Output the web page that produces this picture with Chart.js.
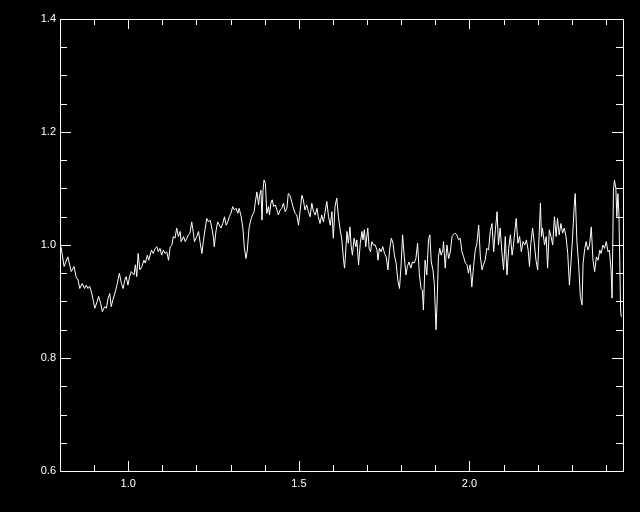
<!DOCTYPE html>
<html>
<head>
<meta charset="utf-8">
<script src="https://cdn.jsdelivr.net/npm/chart.js@4"></script>
<style>
  html, body { margin: 0; padding: 0; background: #000; }
  #wrap { width: 640px; height: 512px; }
</style>
</head>
<body>
<div id="wrap"><canvas id="chart" width="640" height="512"></canvas></div>
<script>
// wavelength (x) and flux ratio (y)
const xValues = [
    0.803,0.812,0.823,0.833,0.841,0.847,0.853,0.858,0.865,0.872,
    0.877,0.882,0.887,0.892,0.897,0.902,0.909,0.913,0.919,0.924,
    0.931,0.936,0.941,0.946,0.950,0.955,0.962,0.968,0.974,0.980,
    0.985,0.990,0.994,0.999,1.004,1.009,1.017,1.021,1.025,1.029,
    1.034,1.040,1.046,1.050,1.056,1.060,1.068,1.073,1.079,
    1.084,1.088,1.093,1.098,1.103,1.108,1.113,1.118,1.123,1.128,
    1.132,1.137,1.142,1.147,1.152,1.155,1.162,1.167,1.172,1.176,
    1.181,1.186,1.191,1.194,1.201,1.206,1.211,1.216,1.220,1.225,
    1.230,1.235,1.240,1.245,1.250,1.252,1.257,1.262,1.267,1.272,
    1.277,1.282,1.287,1.292,1.296,1.301,1.306,1.311,1.316,1.321,
    1.325,1.331,1.336,1.340,1.345,1.349,1.354,1.359,1.364,1.369,
    1.372,1.377,1.382,1.385,1.389,1.392,1.395,1.398,1.402,1.406,
    1.411,1.414,1.418,1.422,1.426,1.431,1.436,1.440,1.445,1.450,
    1.455,1.460,1.465,1.469,1.474,1.479,1.484,1.489,1.494,1.499,
    1.504,1.509,1.513,1.518,1.523,1.528,1.533,1.538,1.543,1.548,
    1.553,1.557,1.562,1.567,1.572,1.577,1.582,1.587,1.592,1.597,
    1.601,1.606,1.611,1.616,1.621,1.626,1.631,1.634,
    1.636,1.641,1.645,1.650,1.653,1.657,1.662,1.667,1.670,1.675,
    1.680,1.685,1.688,1.692,1.696,1.702,1.706,1.710,1.714,1.719,
    1.724,1.729,1.732,1.736,1.741,1.746,1.751,1.756,1.761,1.766,
    1.771,1.776,1.780,1.785,1.790,1.795,1.800,1.804,1.809,1.814,
    1.818,1.823,1.828,1.833,1.838,1.843,1.848,1.853,1.858,1.862,
    1.865,1.870,1.875,1.880,1.884,1.888,1.893,1.897,1.902,1.906,
    1.909,1.913,1.917,1.922,1.924,
    1.929,1.934,1.939,1.944,1.949,1.953,1.958,1.963,1.968,1.973,
    1.978,1.983,1.988,1.993,1.997,2.002,2.007,2.012,2.017,2.022,
    2.027,2.032,2.037,2.041,2.046,2.051,2.056,2.061,2.066,2.071,
    2.076,2.081,2.085,2.090,2.095,2.100,2.105,2.110,2.115,2.120,
    2.125,2.129,2.134,2.137,2.142,2.147,2.152,2.157,2.162,2.167,
    2.172,2.176,2.180,2.185,2.190,2.195,2.200,
    2.208,2.211,2.214,2.220,2.225,2.229,2.234,2.239,2.244,2.249,
    2.254,2.258,2.263,2.268,2.273,2.278,2.283,2.288,2.293,2.298,
    2.302,2.307,2.310,2.315,2.320,2.325,2.330,2.333,2.338,2.342,
    2.347,2.352,2.357,2.362,2.367,2.372,2.377,2.382,2.386,2.391,
    2.396,2.401,2.406,2.410,2.415,2.418,2.422,2.425,2.429,2.432,
    2.435,2.438,2.443,2.445
];

const yValues = [
    0.997,0.962,0.979,0.953,0.962,0.944,0.938,0.923,0.932,0.923,
    0.929,0.923,0.927,0.917,0.903,0.888,0.900,0.909,0.897,0.882,
    0.891,0.888,0.906,0.914,0.891,0.903,0.917,0.932,0.950,0.932,
    0.923,0.938,0.944,0.929,0.944,0.953,0.947,0.965,0.944,0.985,
    0.956,0.962,0.973,0.968,0.982,0.973,0.991,0.985,0.994,
    0.997,0.988,0.994,0.982,0.991,0.985,0.988,0.973,0.997,1.000,
    1.015,1.012,1.030,1.015,1.024,1.006,1.015,1.006,1.012,1.018,
    1.021,1.041,1.021,1.006,1.015,1.024,1.003,0.985,1.006,1.027,
    1.047,1.041,1.044,1.030,1.012,0.997,1.024,1.041,1.035,1.030,
    1.038,1.050,1.035,1.041,1.050,1.056,1.068,1.062,1.065,1.056,
    1.065,1.050,1.030,0.997,0.976,0.991,1.030,1.044,1.053,1.059,
    1.074,1.094,1.071,1.088,1.097,1.044,1.097,1.115,1.109,1.056,
    1.068,1.053,1.074,1.080,1.068,1.071,1.062,1.053,1.062,1.065,
    1.074,1.059,1.065,1.091,1.088,1.077,1.065,1.056,1.053,1.035,
    1.062,1.088,1.080,1.062,1.071,1.059,1.050,1.074,1.059,1.053,
    1.065,1.050,1.038,1.053,1.041,1.059,1.077,1.050,1.035,1.059,
    1.012,1.068,1.083,1.050,1.027,1.009,0.973,0.959,
    0.976,1.024,1.003,1.032,1.000,0.982,1.012,0.997,1.009,0.965,
    1.003,1.024,1.009,1.027,0.997,1.030,0.994,0.988,1.006,1.000,
    1.000,0.991,0.973,0.994,0.988,0.997,0.985,0.979,0.956,0.991,
    1.012,1.003,0.982,0.968,0.938,0.923,0.968,1.018,0.979,0.947,
    0.962,0.970,0.959,0.970,0.968,0.976,1.003,0.950,0.923,0.920,
    0.885,0.973,0.947,1.009,1.018,0.970,0.956,0.932,0.850,0.912,
    0.979,0.994,0.982,0.991,1.006,
    0.959,1.000,0.976,0.988,1.015,1.018,1.021,1.018,1.009,1.012,
    0.988,0.979,0.968,0.965,0.950,0.965,0.926,0.962,0.991,1.003,
    1.035,0.979,0.956,0.965,0.973,0.994,0.991,1.024,1.038,0.988,
    1.027,1.059,1.000,1.030,0.988,0.956,1.015,0.947,0.994,1.018,
    0.982,1.000,1.030,1.047,1.003,1.015,0.988,1.006,1.000,1.009,
    0.991,0.962,1.003,1.030,1.003,0.973,0.956,
    1.074,1.015,1.030,1.000,1.015,0.959,1.027,1.015,1.000,1.050,
    1.015,1.047,1.018,1.038,1.021,1.030,1.015,0.985,0.929,0.973,
    1.012,1.068,1.091,1.006,0.965,0.909,0.894,0.968,0.994,1.006,
    0.991,1.000,1.032,0.973,0.953,0.979,0.973,0.991,0.985,1.000,
    0.994,1.006,0.988,0.991,0.956,0.906,1.097,1.115,1.100,1.050,
    1.091,1.056,0.885,0.873
];

const xMajorTicks = [1.0, 1.5, 2.0];
const xMinorTicks = [0.9, 1.1, 1.2, 1.3, 1.4, 1.6, 1.7, 1.8, 1.9, 2.1, 2.2, 2.3, 2.4];
const yMajorTicks = [0.6, 0.8, 1.0, 1.2, 1.4];
const yMinorTicks = [0.65, 0.7, 0.75, 0.85, 0.9, 0.95, 1.05, 1.1, 1.15, 1.25, 1.3, 1.35];

// box around the plot plus inward tick marks on all four sides
const frameTicks = {
    id: "frameTicks",
    afterDraw(chart) {
        let ctx = chart.ctx;
        let a = chart.chartArea;
        let xs = chart.scales.x, ys = chart.scales.y;
        ctx.save();
        ctx.strokeStyle = "#fff";
        ctx.lineWidth = 1;
        ctx.strokeRect(Math.round(a.left) + 0.5, Math.round(a.top) + 0.5,
            Math.round(a.right - a.left), Math.round(a.bottom - a.top));
        ctx.beginPath();
        function xTick(v, len) {
            let p = Math.round(xs.getPixelForValue(v)) + 0.5;
            ctx.moveTo(p, a.bottom); ctx.lineTo(p, a.bottom - len);
            ctx.moveTo(p, a.top); ctx.lineTo(p, a.top + len);
        }
        function yTick(v, len) {
            let p = Math.round(ys.getPixelForValue(v)) + 0.5;
            ctx.moveTo(a.left, p); ctx.lineTo(a.left + len, p);
            ctx.moveTo(a.right, p); ctx.lineTo(a.right - len, p);
        }
        xMajorTicks.forEach(v => xTick(v, 10));
        xMinorTicks.forEach(v => xTick(v, 6));
        yMajorTicks.slice(1, -1).forEach(v => yTick(v, 11));
        yMinorTicks.forEach(v => yTick(v, 7));
        ctx.stroke();
        ctx.restore();
    }
};

let points = xValues.map((x, i) => ({ x: x, y: yValues[i] }));

new Chart(document.getElementById("chart").getContext("2d"), {
    type: "line",
    data: {
        datasets: [{
            data: points,
            borderColor: "#fff",
            borderWidth: 1,
            pointRadius: 0,
            tension: 0,
            fill: false
        }]
    },
    options: {
        responsive: false,
        animation: false,
        layout: { padding: { top: 19, right: 17, left: 0, bottom: 0 } },
        plugins: { legend: { display: false }, tooltip: { enabled: false } },
        scales: {
            x: {
                type: "linear",
                min: 0.8,
                max: 2.45,
                grid: { display: false, drawTicks: false },
                border: { display: false },
                afterBuildTicks: axis => { axis.ticks = xMajorTicks.map(v => ({ value: v })); },
                afterFit: axis => { axis.height = 41; },
                ticks: {
                    color: "#fff",
                    padding: 6,
                    font: { family: "Liberation Sans", size: 11 },
                    callback: v => v.toFixed(1)
                }
            },
            y: {
                min: 0.6,
                max: 1.4,
                grid: { display: false, drawTicks: false },
                border: { display: false },
                afterBuildTicks: axis => { axis.ticks = yMajorTicks.map(v => ({ value: v })); },
                afterFit: axis => { axis.width = 60; },
                ticks: {
                    color: "#fff",
                    padding: 4,
                    font: { family: "Liberation Sans", size: 11 },
                    callback: v => v.toFixed(1)
                }
            }
        }
    },
    plugins: [frameTicks]
});
</script>
</body>
</html>
